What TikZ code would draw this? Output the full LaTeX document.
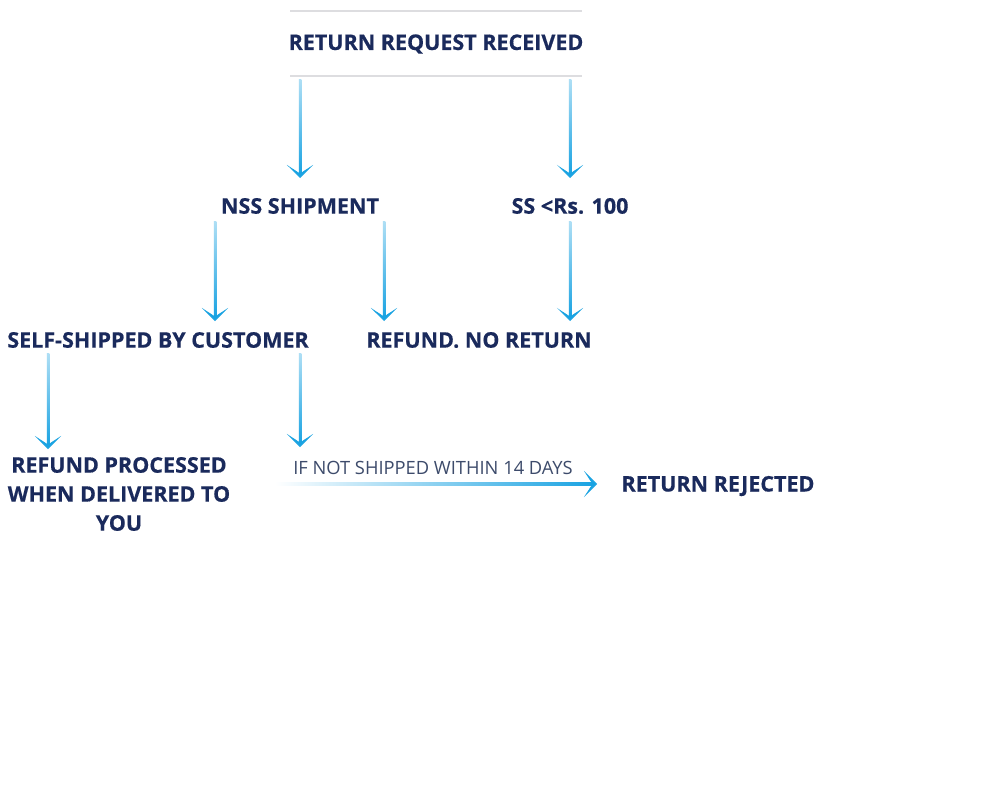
\documentclass[tikz,border=0pt]{standalone}
\usepackage{fontspec}
\setmainfont{Open Sans}
\newfontfamily\heavy[BoldFeatures={FakeBold=0.45}]{Open Sans}
\usetikzlibrary{arrows.meta,calc,decorations.markings}
\definecolor{navy}{HTML}{1A2A5C}
\definecolor{arrblue}{HTML}{1AA3E2}
\definecolor{rulegray}{HTML}{DDDDE0}
\definecolor{slate}{HTML}{3D4B6B}
\newcommand\vconn[2]{%
  \shade[vbody] ($(#1)+(-1.25,0)$) rectangle ($(#2)+(1.25,-4)$);
  \draw[tip] (#1) -- (#2);}
\newcommand\hconn[2]{%
  \shade[hbody] ($(#1)+(0,-1.25)$) rectangle ($(#2)+(-4,1.25)$);
  \draw[tip] (#1) -- (#2);}
\begin{document}
\begin{tikzpicture}[x=1pt,y=-1pt,
  lbl/.style={font=\heavy\bfseries\fontsize{21.5}{29}\selectfont, text=navy, inner sep=0pt, align=center},
  note/.style={font=\fontsize{18.3}{20}\selectfont, text=slate, inner sep=0pt},
  tip/.style={draw=none, postaction={decorate, decoration={markings, mark=at position 1 with {\arrow[arrblue, line width=0.8pt]{Stealth[length=13pt,width=26pt,inset=8.5pt]}}}}},
  vbody/.style={draw=none, top color=arrblue!35, bottom color=arrblue},
  hbody/.style={draw=none, left color=white, middle color=arrblue!80, right color=arrblue},
  rule/.style={draw=rulegray, line width=2pt}]
\useasboundingbox (0,0) rectangle (1000,800);
\fill[white] (0,0) rectangle (1000,800);
% top box rules
\coordinate (tl) at (290,11); \coordinate (tr) at (582,11);
\coordinate (bl) at (290,76); \coordinate (br) at (582,76);
\draw[rule] (tl) -- (tr);
\draw[rule] (bl) -- (br);
\node[lbl] (req) at (436,44) {RETURN REQUEST RECEIVED};
\node[lbl] (nss) at (300,206) {NSS SHIPMENT};
\node[lbl] (ss) at (570,206) {SS <Rs. 100};
\node[lbl] (self) at (158,340) {SELF-SHIPPED BY CUSTOMER};
\node[lbl] (nor) at (479,340) {REFUND. NO RETURN};
\node[lbl] (proc) at (119,494) {REFUND PROCESSED\\WHEN DELIVERED TO\\YOU};
\node[lbl] (rej) at (718,486) {RETURN REJECTED};
\node[note] (cond) at (433,468) {IF NOT SHIPPED WITHIN 14 DAYS};
% connectors
\coordinate (a1s) at (300,79); \coordinate (a1e) at (300,178);
\coordinate (a2s) at (570,79); \coordinate (a2e) at (570,178);
\vconn{a1s}{a1e}
\vconn{a2s}{a2e}
\coordinate (b1s) at (215,221); \coordinate (b1e) at (215,321);
\coordinate (b2s) at (384,221); \coordinate (b2e) at (384,321);
\coordinate (b3s) at (570,221); \coordinate (b3e) at (570,321);
\vconn{b1s}{b1e}
\vconn{b2s}{b2e}
\vconn{b3s}{b3e}
\coordinate (c1s) at (48,353); \coordinate (c1e) at (48,449);
\coordinate (c2s) at (300,353); \coordinate (c2e) at (300,447);
\vconn{c1s}{c1e}
\vconn{c2s}{c2e}
\coordinate (hs) at (275,484); \coordinate (he) at (597,484);
\hconn{hs}{he}
\end{tikzpicture}
\end{document}
